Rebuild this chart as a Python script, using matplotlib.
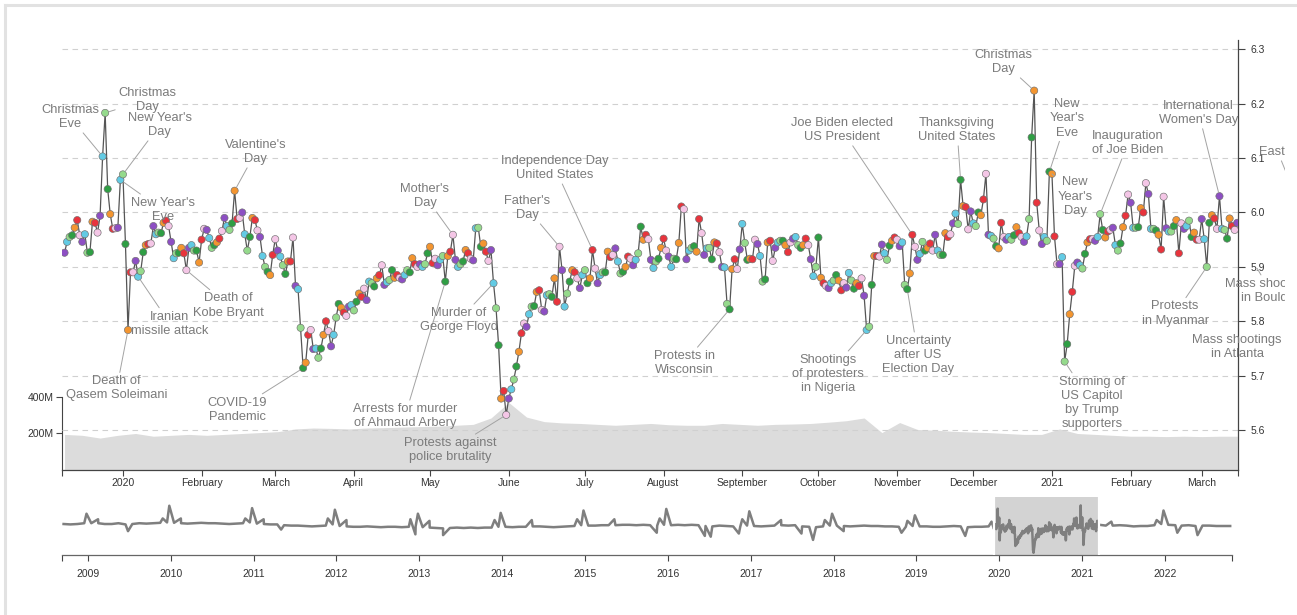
import numpy as np
import matplotlib
matplotlib.use("Agg")
import matplotlib.pyplot as plt
import matplotlib.dates as mdates
from matplotlib.lines import Line2D
from matplotlib.transforms import Bbox, TransformedBbox

plt.rcParams["font.family"] = ["Liberation Sans", "DejaVu Sans"]

# ---------------------------------------------------------------------------
# Daily average happiness, Monday 9 Dec 2019 .. Monday 15 Mar 2021
# one row per week (Mon .. Sun)
first_day = "2019-12-09"
happiness = [
    5.926, 5.946, 5.955, 5.958, 5.972, 5.986, 5.958,
    5.946, 5.960, 5.926, 5.927, 5.983, 5.981, 5.963,
    5.994, 6.103, 6.183, 6.043, 5.997, 5.970, 5.971,
    5.972, 6.060, 6.070, 5.942, 5.784, 5.890, 5.890,
    5.911, 5.882, 5.892, 5.927, 5.940, 5.942, 5.943,
    5.975, 5.960, 5.963, 5.962, 5.981, 5.985, 5.975,
    5.946, 5.916, 5.925, 5.926, 5.935, 5.925, 5.894,
    5.935, 5.940, 5.930, 5.930, 5.908, 5.950, 5.970,
    5.968, 5.953, 5.935, 5.940, 5.945, 5.952, 5.966,
    5.990, 5.975, 5.968, 5.980, 6.040, 5.988, 5.990,
    6.000, 5.960, 5.930, 5.955, 5.990, 5.986, 5.967,
    5.955, 5.920, 5.900, 5.891, 5.885, 5.922, 5.951,
    5.930, 5.919, 5.903, 5.887, 5.910, 5.910, 5.954,
    5.865, 5.859, 5.788, 5.714, 5.724, 5.775, 5.784,
    5.749, 5.750, 5.733, 5.750, 5.775, 5.800, 5.782,
    5.754, 5.775, 5.807, 5.832, 5.825, 5.816, 5.810,
    5.827, 5.830, 5.820, 5.836, 5.851, 5.845, 5.860,
    5.839, 5.873, 5.870, 5.864, 5.879, 5.885, 5.903,
    5.867, 5.872, 5.876, 5.894, 5.880, 5.885, 5.880,
    5.877, 5.885, 5.894, 5.890, 5.916, 5.905, 5.900,
    5.905, 5.900, 5.905, 5.925, 5.937, 5.907, 5.915,
    5.903, 5.913, 5.920, 5.873, 5.920, 5.928, 5.959,
    5.913, 5.900, 5.905, 5.910, 5.931, 5.925, 5.915,
    5.912, 5.971, 5.972, 5.937, 5.943, 5.928, 5.911,
    5.931, 5.870, 5.824, 5.756, 5.658, 5.672, 5.628,
    5.658, 5.675, 5.693, 5.717, 5.744, 5.778, 5.796,
    5.790, 5.813, 5.827, 5.828, 5.854, 5.857, 5.821,
    5.818, 5.848, 5.850, 5.845, 5.879, 5.836, 5.937,
    5.894, 5.827, 5.851, 5.873, 5.894, 5.890, 5.879,
    5.861, 5.885, 5.894, 5.870, 5.879, 5.931, 5.897,
    5.870, 5.885, 5.890, 5.890, 5.928, 5.918, 5.922,
    5.934, 5.910, 5.888, 5.891, 5.900, 5.919, 5.915,
    5.903, 5.913, 5.925, 5.974, 5.950, 5.959, 5.951,
    5.913, 5.898, 5.910, 5.915, 5.935, 5.952, 5.930,
    5.919, 5.900, 5.915, 5.914, 5.944, 6.011, 6.006,
    5.914, 5.930, 5.935, 5.938, 5.928, 5.988, 5.962,
    5.922, 5.934, 5.935, 5.914, 5.945, 5.943, 5.927,
    5.900, 5.899, 5.832, 5.822, 5.896, 5.914, 5.896,
    5.932, 5.979, 5.944, 5.913, 5.915, 5.914, 5.950,
    5.942, 5.920, 5.873, 5.877, 5.945, 5.948, 5.911,
    5.935, 5.945, 5.948, 5.948, 5.940, 5.927, 5.945,
    5.952, 5.955, 5.940, 5.935, 5.940, 5.952, 5.940,
    5.914, 5.883, 5.900, 5.954, 5.880, 5.870, 5.865,
    5.861, 5.870, 5.875, 5.885, 5.875, 5.857, 5.870,
    5.862, 5.889, 5.875, 5.860, 5.870, 5.865, 5.879,
    5.847, 5.784, 5.790, 5.867, 5.920, 5.920, 5.919,
    5.941, 5.925, 5.913, 5.939, 5.948, 5.954, 5.950,
    5.938, 5.945, 5.867, 5.859, 5.888, 5.959, 5.937,
    5.913, 5.924, 5.946, 5.930, 5.935, 5.943, 5.930,
    5.959, 5.930, 5.922, 5.922, 5.962, 5.955, 5.960,
    5.980, 5.998, 5.979, 6.060, 6.012, 6.010, 5.969,
    6.002, 5.980, 5.975, 6.000, 5.995, 6.024, 6.071,
    5.959, 5.957, 5.952, 5.938, 5.934, 5.981, 5.955,
    5.950, 5.955, 5.950, 5.958, 5.973, 5.962, 5.955,
    5.946, 5.956, 5.988, 6.138, 6.224, 6.018, 5.967,
    5.942, 5.955, 5.948, 6.075, 6.071, 5.956, 5.905,
    5.905, 5.918, 5.726, 5.758, 5.813, 5.854, 5.902,
    5.908, 5.903, 5.897, 5.924, 5.945, 5.951, 5.951,
    5.948, 5.955, 5.997, 5.968, 5.954, 5.965, 5.968,
    5.972, 5.940, 5.930, 5.943, 5.973, 5.994, 6.033,
    6.018, 5.972, 5.972, 5.973, 6.008, 6.000, 6.054,
    6.034, 5.970, 5.970, 5.967, 5.959, 5.932, 6.029,
    5.971, 5.965, 5.965, 5.975, 5.986, 5.925, 5.980,
    5.970, 5.975, 5.985, 5.955, 5.963, 5.950, 5.950,
    5.988, 5.951, 5.900, 5.981, 5.995, 5.989, 5.970,
    6.030, 5.970, 5.968, 5.952, 5.989, 5.975, 5.968,
    5.981,
]

# marker colour per weekday, Monday .. Sunday
weekday_colors = ["#8d4fc3", "#63cbe4", "#95da8c", "#2f9e44",
                  "#f39530", "#e8343d", "#f4c6e6"]

# Weekly tweet volume (millions), one value per Monday from 9 Dec 2019
volume_millions = [
    195, 190, 175, 190, 200, 185, 190, 195, 190, 195, 200, 205,
    210, 225, 230, 228, 225, 230, 232, 235, 238, 240, 245, 250,
    285, 370, 290, 265, 258, 255, 250, 245, 250, 255, 248, 245,
    245, 255, 250, 245, 250, 252, 255, 262, 270, 285, 205, 260,
    222, 218, 212, 208, 205, 200, 195, 195, 225, 200, 195, 190,
    185, 185, 183, 185, 183, 185, 185,
]

# Long-run monthly averages for the overview strip
history_start = "2008-09"
history_monthly = [
    5.990, 5.985, 5.990, 6.000,
    6.000, 6.000, 5.990, 5.990, 6.000, 5.985, 5.990, 6.000, 5.995, 6.000, 6.005, 6.010,
    6.005, 6.000, 5.995, 6.000, 6.005, 6.000, 6.000, 5.995, 5.990, 5.995, 6.000, 6.010,
    5.995, 5.990, 5.985, 5.985, 5.975, 5.970, 5.970, 5.965, 5.960, 5.965, 5.970, 5.985,
    5.965, 5.960, 5.955, 5.955, 5.960, 5.955, 5.950, 5.955, 5.955, 5.950, 5.955, 5.960,
    5.950, 5.945, 5.940, 5.935, 5.940, 5.945, 5.940, 5.945, 5.940, 5.945, 5.945, 5.955,
    5.955, 5.950, 5.955, 5.955, 5.960, 5.960, 5.955, 5.950, 5.955, 5.960, 5.965, 5.975,
    5.970, 5.970, 5.975, 5.975, 5.975, 5.980, 5.980, 5.975, 5.980, 5.975, 5.970, 5.980,
    5.975, 5.980, 5.975, 5.980, 5.975, 5.965, 5.960, 5.970, 5.965, 5.960, 5.955, 5.970,
    5.965, 5.960, 5.965, 5.970, 5.975, 5.970, 5.975, 5.960, 5.955, 5.950, 5.960, 5.970,
    5.970, 5.965, 5.960, 5.965, 5.970, 5.965, 5.965, 5.960, 5.960, 5.955, 5.955, 5.965,
    5.960, 5.960, 5.955, 5.955, 5.960, 5.965, 5.960, 5.950, 5.955, 5.955, 5.960,
]
recent_start = "2021-04"
recent_monthly = [
    5.970, 5.970, 5.975, 5.970, 5.960, 5.965, 5.965, 5.975, 5.990,
    5.980, 5.975, 5.970, 5.975, 5.965, 5.970, 5.970, 5.965, 5.965, 5.965,
]
# single days that stand out from the monthly level
spike_dates = [
    "2008-12-25", "2009-02-14", "2009-06-26", "2009-11-26", "2009-12-25",
    "2010-02-14", "2010-11-25", "2010-12-25", "2011-02-14", "2011-05-02",
    "2011-11-24", "2011-12-25", "2012-02-14", "2012-11-22", "2012-12-14",
    "2012-12-25", "2013-02-14", "2013-04-15", "2013-11-28", "2013-12-25",
    "2014-05-11", "2014-11-27", "2014-12-25", "2015-05-10", "2015-11-13",
    "2015-11-26", "2015-12-25", "2016-06-12", "2016-07-08", "2016-11-09",
    "2016-11-24", "2016-12-25", "2017-05-14", "2017-08-12", "2017-10-02",
    "2017-11-23", "2017-12-25", "2018-02-14", "2018-10-27", "2018-11-22",
    "2018-12-25", "2019-08-04", "2019-11-28", "2021-05-09", "2021-11-25",
    "2021-12-25", "2022-02-24", "2022-05-24",
]
spike_values = [
    6.12, 6.05, 5.90, 6.06, 6.22,
    6.06, 6.06, 6.19, 6.05, 5.92,
    6.06, 6.17, 6.04, 6.05, 5.86,
    6.12, 6.03, 5.85, 6.04, 6.13,
    6.04, 6.05, 6.16, 6.05, 5.88,
    6.06, 6.18, 5.84, 5.83, 5.87,
    6.05, 6.15, 6.04, 5.87, 5.79,
    6.04, 6.12, 5.90, 5.88, 6.03,
    6.10, 5.84, 6.02, 6.02, 6.04,
    6.16, 5.88, 5.85,
]

# Labelled days: (label, date, text offset from the point in points)
events = [
    ("Christmas\nEve", "2019-12-24", -23.5, 28.4),
    ("Christmas\nDay", "2019-12-25", 30.1, 9.3),
    ("New Year's\nDay", "2020-01-01", 26.6, 35.6),
    ("New Year's\nEve", "2019-12-31", 30.6, -21.7),
    ("Iranian\nmissile attack", "2020-01-07", 22.9, -33.8),
    ("Death of\nKobe Bryant", "2020-01-26", 30.5, -25.5),
    ("Valentine's\nDay", "2020-02-14", 15.3, 27.9),
    ("Death of\nQasem Soleimani", "2020-01-03", -8.1, -42.0),
    ("COVID-19\nPandemic", "2020-03-12", -47.5, -30.0),
    ("Arrests for murder\nof Ahmaud Arbery", "2020-05-07", -29.0, -96.8),
    ("Mother's\nDay", "2020-05-10", -20.1, 27.9),
    ("Murder of\nGeorge Floyd", "2020-05-26", -24.8, -26.5),
    ("Protests against\npolice brutality", "2020-05-31", -40.5, -25.3),
    ("Father's\nDay", "2020-06-21", -23.4, 27.9),
    ("Independence Day\nUnited States", "2020-07-04", -27.0, 59.0),
    ("Protests in\nWisconsin", "2020-08-27", -32.8, -38.7),
    ("Shootings\nof protesters\nin Nigeria", "2020-10-20", -27.8, -31.7),
    ("Joe Biden elected\nUS President", "2020-11-07", -50.6, 75.5),
    ("Uncertainty\nafter US\nElection Day", "2020-11-05", 7.8, -47.4),
    ("Thanksgiving\nUnited States", "2020-11-26", -2.5, 35.9),
    ("Christmas\nDay", "2020-12-25", -22.4, 20.6),
    ("New\nYear's\nEve", "2020-12-31", 12.7, 38.4),
    ("New\nYear's\nDay", "2021-01-01", 16.6, -16.4),
    ("Storming of\nUS Capitol\nby Trump\nsupporters", "2021-01-06", 19.7, -29.8),
    ("Inauguration\nof Joe Biden", "2021-01-20", 20.1, 51.2),
    ("International\nWomen's Day", "2021-03-08", -15.0, 60.0),
    ("Protests\nin Myanmar", "2021-03-03", -22.8, -33.6),
]
# labels whose days fall after the last plotted day: (label, text date, text value,
# leader end date, leader end value)
late_events = [
    ("Mass shootings\nin Atlanta", "2021-03-15", 5.753, None, None),
    ("Mass shootings\nin Boulder", "2021-03-28", 5.856, "2021-03-22", 5.904),
    ("Easter", "2021-03-31", 6.111, "2021-04-04", 6.065),
]

month_labels = ["2020", "February", "March", "April", "May", "June", "July",
                "August", "September", "October", "November", "December",
                "2021", "February", "March"]

# ---------------------------------------------------------------------------
W, H = 1297, 615
fig = plt.figure(figsize=(W / 100, H / 100), dpi=100)
fig.patch.set_facecolor("white")


def rect(left, top, right, bottom):
    return [left / W, 1 - bottom / H, (right - left) / W, (bottom - top) / H]


TEXT = "#7b7b7b"
TICK = "#333333"
AXIS = "#444444"
num = mdates.date2num

dates = np.datetime64(first_day) + np.arange(len(happiness))
vals = np.array(happiness)
weekday = (dates - np.datetime64("1970-01-05")).astype(int) % 7
jan1 = num(np.datetime64("2020-01-01"))
xlim_main = (jan1 - 24.0, jan1 + 439.3)

# ---- tweet volume behind the main chart -----------------------------------
axv = fig.add_axes(rect(62, 40, 1238, 470), zorder=0)
vol_dates = np.datetime64(first_day) + 7 * np.arange(len(volume_millions))
axv.fill_between(num(vol_dates), np.array(volume_millions) * 1e6,
                 color="#dcdcdc", lw=0)
axv.set_xlim(*xlim_main)
axv.set_ylim(0, 2.356e9)
axv.set_yticks([200e6, 400e6])
axv.set_yticklabels(["200M", "400M"])
axv.tick_params(axis="y", length=4, width=0.8, labelsize=7.5,
                colors=AXIS, labelcolor=TICK, pad=2)
axv.set_xticks([])
for s in ["top", "right", "bottom"]:
    axv.spines[s].set_visible(False)
axv.spines["left"].set_bounds(0, 400e6)
axv.spines["left"].set_color(AXIS)
axv.spines["left"].set_linewidth(0.8)

# ---- main happiness chart ---------------------------------------------------
ax = fig.add_axes(rect(62, 40, 1238, 470), zorder=1)
ax.patch.set_visible(False)
ax.set_xlim(*xlim_main)
ax.set_ylim(5.5267, 6.317)
yt = np.round(np.arange(5.6, 6.31, 0.1), 1)
for v in yt:
    ax.axhline(v, color="#d0d0d0", lw=0.8, ls=(0, (5, 4)), zorder=1)
ax.plot(num(dates), vals, color="#555555", lw=0.9, zorder=3)
ax.scatter(num(dates), vals, s=27,
           c=[weekday_colors[d] for d in weekday],
           edgecolors="#6f6f6f", linewidths=0.45, zorder=4)

ax.yaxis.tick_right()
ax.set_yticks(yt)
ax.set_yticklabels([f"{v:.1f}" for v in yt])
ax.tick_params(axis="y", length=5, width=0.8, labelsize=7.5,
               colors=AXIS, labelcolor=TICK, pad=4)
month_starts = np.arange(np.datetime64("2020-01"), np.datetime64("2021-04"))
ax.set_xticks(num(month_starts.astype("datetime64[D]")))
ax.set_xticklabels(month_labels)
ax.set_xticks(list(xlim_main), minor=True)
ax.tick_params(axis="x", which="both", length=4, width=0.8, labelsize=7.5,
               colors=AXIS, labelcolor=TICK, pad=2)
for s in ["top", "left"]:
    ax.spines[s].set_visible(False)
for s in ["right", "bottom"]:
    ax.spines[s].set_color(AXIS)
    ax.spines[s].set_linewidth(0.9)

clip = TransformedBbox(Bbox([[0, 0], [1285 / W, 1]]), fig.transFigure)
arrow = dict(arrowstyle="-", color="#a3a3a3", lw=0.7, shrinkA=0, shrinkB=3)
for label, day, dx, dy in events:
    i = int((np.datetime64(day) - dates[0]).astype(int))
    ax.annotate(label, xy=(num(dates[i]), vals[i]), xytext=(dx, dy),
                textcoords="offset points", ha="center", va="center",
                fontsize=9.3, color=TEXT, linespacing=1.25, zorder=6,
                arrowprops=arrow, annotation_clip=False)

for label, day, v, lday, lv in late_events:
    if lday is None:
        t = ax.text(num(np.datetime64(day)), v, label, ha="center",
                    va="center", fontsize=9.3, color=TEXT,
                    linespacing=1.25, zorder=6)
    else:
        t = ax.annotate(label, xy=(num(np.datetime64(lday)), lv),
                        xytext=(num(np.datetime64(day)), v),
                        ha="center", va="center", fontsize=9.3, color=TEXT,
                        linespacing=1.25, zorder=6, arrowprops=arrow,
                        annotation_clip=False)
        t.arrow_patch.set_clip_box(clip)
        t.arrow_patch.set_clip_on(True)
    t.set_clip_box(clip)
    t.set_clip_on(True)

# ---- overview strip ----------------------------------------------------------
axo = fig.add_axes(rect(62, 497, 1232, 555))
h0 = np.datetime64(history_start)
r0 = np.datetime64(recent_start)
hist_dates = (h0 + np.arange(len(history_monthly))).astype("datetime64[D]") + 14
rec_dates = (r0 + np.arange(len(recent_monthly))).astype("datetime64[D]") + 14
all_dates = np.concatenate([hist_dates,
                            np.array(spike_dates, dtype="datetime64[D]"),
                            dates, rec_dates])
all_vals = np.concatenate([history_monthly, spike_values, vals, recent_monthly])
order = np.argsort(all_dates, kind="stable")
brush0 = num(np.datetime64(first_day)) - 0.5
brush1 = num(dates[-1]) + 1.0
axo.axvspan(brush0, brush1, color="#d3d3d3", lw=0, zorder=0)
axo.plot(num(all_dates[order]), all_vals[order], color="#7f7f7f", lw=1.8,
         zorder=2, solid_joinstyle="round")
for b in (brush0, brush1):
    axo.axvline(b, color="white", lw=1.6, zorder=3)
xlim_over = (num(np.datetime64("2008-09-08")), num(np.datetime64("2022-10-23")))
axo.set_xlim(*xlim_over)
axo.set_ylim(5.6, 6.33)
years = np.arange(np.datetime64("2009"), np.datetime64("2023"))
axo.set_xticks(num(years.astype("datetime64[D]")))
axo.set_xticklabels([str(y) for y in range(2009, 2023)])
axo.set_xticks(list(xlim_over), minor=True)
axo.tick_params(axis="x", which="both", length=4, width=0.8, labelsize=7.5,
                colors=AXIS, labelcolor=TICK, pad=6)
axo.set_yticks([])
for s in ["top", "left", "right"]:
    axo.spines[s].set_visible(False)
axo.spines["bottom"].set_color("#666666")
axo.spines["bottom"].set_linewidth(0.9)

# ---- light frame along the top and left edges -------------------------------
fig.add_artist(Line2D([5 / W, 5 / W], [0, 1 - 5 / H], transform=fig.transFigure,
                      color="#e2e2e2", lw=2.2))
fig.add_artist(Line2D([5 / W, 1], [1 - 5 / H, 1 - 5 / H], transform=fig.transFigure,
                      color="#e2e2e2", lw=2.2))

fig.savefig("out.png", dpi=100, facecolor="white")
